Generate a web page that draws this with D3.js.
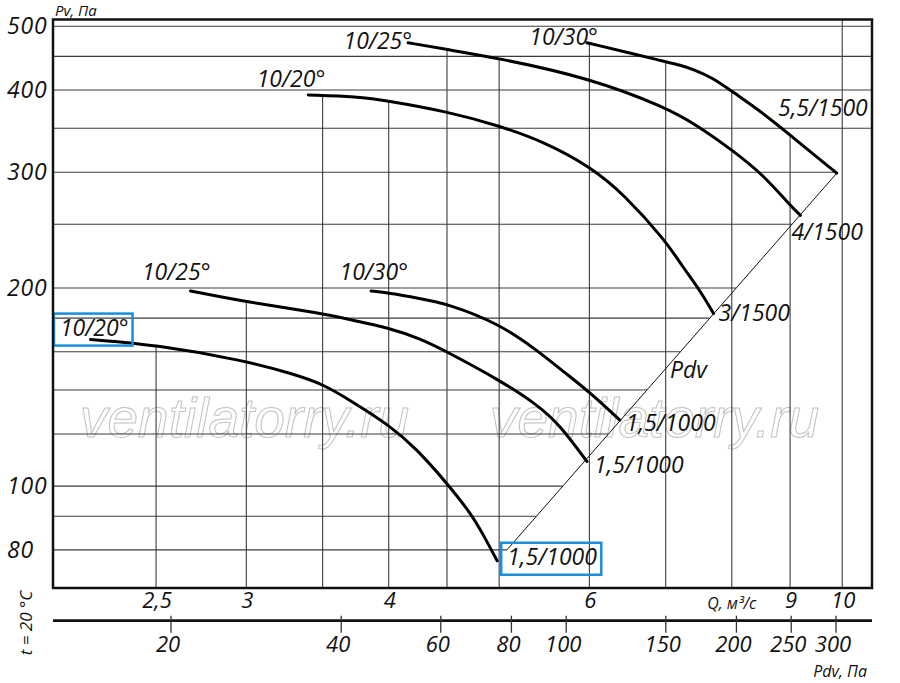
<!DOCTYPE html>
<html>
<head>
<meta charset="utf-8">
<script src="https://cdn.jsdelivr.net/npm/d3@7"></script>
<style>
  body { margin: 0; background: #fff; }
  text { font-family: "Open Sans", sans-serif; font-style: italic; fill: #111; }
</style>
</head>
<body>
<div id="chart"></div>
<script>
// axis values
const qTicks = [2.5, 3, 4, 6, 9, 10];
const qGrid = [2.5, 3, 3.5, 4, 4.5, 5, 6, 7, 8, 9, 10];
const pvTicks = [80, 100, 200, 300, 400, 500];
const pvGrid = [80, 90, 100, 120, 140, 160, 180, 200, 250, 300, 350, 400, 450, 500];
const pdvTicks = [20, 40, 60, 80, 100, 150, 200, 250, 300];

// fan curves [Q m3/s, Pv Pa]
const curve20Low = [[2.19,167],[2.5,164],[3.0,155],[3.3,148],[3.5,143],[3.7,135],[4.0,124],[4.23,114],[4.5,101],[4.72,91],[4.84,84.5],[4.98,77]];
const curve25Low = [[2.68,198],[3.0,190.5],[3.5,183],[3.7,179],[4.0,174],[4.26,167.6],[4.5,160],[5.0,145],[5.4,133],[5.65,124],[5.97,109]];
const curve30Low = [[3.86,198],[4.0,196.6],[4.26,192.8],[4.5,189.4],[5.0,176.6],[5.4,160.8],[5.73,148],[6.0,139],[6.38,126]];
const curve20High = [[3.40,393],[3.75,391],[4.0,385],[4.5,371],[5.0,353],[5.47,334],[6.01,306],[6.43,278],[7.0,236],[7.25,215],[7.5,198.5],[7.71,183]];
const curve25High = [[4.16,472],[4.5,461],[5.0,447],[6.01,417],[7.0,376.5],[7.45,354],[8.01,324],[8.53,297],[9.0,267],[9.19,258]];
const curve30High = [[5.97,472],[7.0,441.7],[7.21,436.6],[7.40,430],[7.71,417],[8.01,397.6],[8.53,368.6],[9.0,341.6],[9.89,299]];
// Pdv line through the curve ends
const pdvLine = [[5.08,80],[9.89,299]];

const curves = [
  { id: "a", pts: curve20Low,  start: "10/20°", end: "1,5/1000" },
  { id: "b", pts: curve25Low,  start: "10/25°", end: "1,5/1000" },
  { id: "c", pts: curve30Low,  start: "10/30°", end: "1,5/1000" },
  { id: "d", pts: curve20High, start: "10/20°", end: "3/1500" },
  { id: "e", pts: curve25High, start: "10/25°", end: "4/1500" },
  { id: "f", pts: curve30High, start: "10/30°", end: "5,5/1500" }
];

// label placement relative to curve start / end (px)
const labelPos = {
  a: { s: [38, -4], e: [10, 4], box: true },
  b: { s: [20, -11], e: [7, 12] },
  c: { s: [37, -11], e: [6, 11] },
  d: { s: [17, -8], e: [5, 8] },
  e: { s: [4, 6], e: [-9, 25] },
  f: { s: [11, 2], e: [31, -57], anchorEnd: true }
};

const W = 900, H = 683;
const svg = d3.select("#chart").append("svg")
    .attr("width", W)
    .attr("height", H);

const x = d3.scaleLog().domain([2.03, 10.62]).range([53, 872]);
const y = d3.scaleLog().domain([70, 512]).range([588, 19.5]);
const xPdv = d3.scaleLog().domain([20, 300]).range([171, 836]);

const comma = v => String(v).replace(".", ",");

// log-log interpolation along a polyline
function pvAt(pts, q) {
  for (let i = 0; i < pts.length - 1; i++) {
    const [q0, p0] = pts[i], [q1, p1] = pts[i + 1];
    if (q >= q0 && q <= q1) {
      const t = Math.log(q / q0) / Math.log(q1 / q0);
      return Math.exp(Math.log(p0) + t * Math.log(p1 / p0));
    }
  }
  return null;
}
function qOnDiag(pv) {
  const [q0, p0] = pdvLine[0], [q1, p1] = pdvLine[1];
  const t = Math.log(pv / p0) / Math.log(p1 / p0);
  return Math.exp(Math.log(q0) + t * Math.log(q1 / q0));
}

// watermark
["ventilatorry.ru", "ventilatorry.ru"].forEach((t, i) => {
  svg.append("text")
      .attr("x", i === 0 ? 80 : 490)
      .attr("y", 437)
      .style("font-family", "'Liberation Sans', Arial, sans-serif")
      .style("font-size", "55px")
      .style("fill", "none")
      .style("stroke", "#c2c2c2")
      .style("stroke-width", 1)
      .text(t);
});

// horizontal grid, stops at the Pdv line below 300 Pa
svg.append("g").selectAll("line")
    .data(pvGrid)
    .enter().append("line")
    .attr("x1", x.range()[0])
    .attr("x2", d => d <= 300 ? x(qOnDiag(d)) : x.range()[1])
    .attr("y1", d => y(d))
    .attr("y2", d => y(d))
    .attr("stroke", "#3c3c3c")
    .attr("stroke-width", 1.1);

// vertical grid, from the bottom up to the highest curve
svg.append("g").selectAll("line")
    .data(qGrid)
    .enter().append("line")
    .attr("x1", d => x(d))
    .attr("x2", d => x(d))
    .attr("y1", y.range()[0])
    .attr("y2", d => {
      const vals = curves.map(c => pvAt(c.pts, d)).filter(v => v !== null);
      return vals.length ? y(d3.max(vals)) : y.range()[1];
    })
    .attr("stroke", "#3c3c3c")
    .attr("stroke-width", 1.1);

// Pdv diagonal
const line = d3.line().x(d => x(d[0])).y(d => y(d[1]));
svg.append("path")
    .attr("d", line(pdvLine))
    .attr("fill", "none")
    .attr("stroke", "#111")
    .attr("stroke-width", 1);

const mid = [Math.sqrt(pdvLine[0][0] * pdvLine[1][0]), Math.sqrt(pdvLine[0][1] * pdvLine[1][1])];
svg.append("text")
    .attr("x", x(mid[0]) - 2)
    .attr("y", y(mid[1]) + 16)
    .style("font-size", "23px")
    .text("Pdv");

// curves
const curveLine = d3.line()
    .x(d => x(d[0]))
    .y(d => y(d[1]))
    .curve(d3.curveBasis);

svg.append("g").selectAll("path")
    .data(curves)
    .enter().append("path")
    .attr("d", d => curveLine(d.pts))
    .attr("fill", "none")
    .attr("stroke", "#000")
    .attr("stroke-width", 3)
    .attr("stroke-linecap", "round");

// curve labels
curves.forEach(c => {
  const lp = labelPos[c.id];
  const s = c.pts[0], e = c.pts[c.pts.length - 1];
  const ts = svg.append("text")
      .attr("x", x(s[0]) + lp.s[0])
      .attr("y", y(s[1]) + lp.s[1])
      .attr("text-anchor", "end")
      .style("font-size", "23px")
      .text(c.start);
  const te = svg.append("text")
      .attr("x", x(e[0]) + lp.e[0])
      .attr("y", y(e[1]) + lp.e[1])
      .attr("text-anchor", lp.anchorEnd ? "end" : "start")
      .style("font-size", "23px")
      .text(c.end);
  if (lp.box) {
    [ts, te].forEach(t => {
      const bb = t.node().getBBox();
      svg.append("rect")
          .attr("x", bb.x - 6)
          .attr("y", bb.y + 3)
          .attr("width", bb.width + 10)
          .attr("height", bb.height)
          .attr("fill", "none")
          .attr("stroke", "#1a8ddb")
          .attr("stroke-width", 2.5);
    });
  }
});

// frame
svg.append("rect")
    .attr("x", x.range()[0])
    .attr("y", y.range()[1])
    .attr("width", x.range()[1] - x.range()[0])
    .attr("height", y.range()[0] - y.range()[1])
    .attr("fill", "none")
    .attr("stroke", "#111")
    .attr("stroke-width", 2.5);

// Pv labels
svg.append("g").selectAll("text")
    .data(pvTicks)
    .enter().append("text")
    .attr("x", 7)
    .attr("y", d => y(d) + 8)
    .style("font-size", "23px")
    .style("letter-spacing", "0.8px")
    .text(d => d);

svg.append("text")
    .attr("x", 55)
    .attr("y", 16)
    .style("font-size", "15px")
    .text("Pv, Па");

// Q labels
svg.append("g").selectAll("text")
    .data(qTicks)
    .enter().append("text")
    .attr("x", d => x(d) + 1)
    .attr("y", 608)
    .attr("text-anchor", "middle")
    .style("font-size", "22px")
    .text(d => comma(d));

svg.append("text")
    .attr("x", x(8))
    .attr("y", 609)
    .attr("text-anchor", "middle")
    .style("font-size", "16px")
    .text("Q, м³/с");

// Pdv axis
const pdvY = 620.7;
svg.append("line")
    .attr("x1", x.range()[0])
    .attr("x2", x.range()[1])
    .attr("y1", pdvY)
    .attr("y2", pdvY)
    .attr("stroke", "#111")
    .attr("stroke-width", 2.7);

svg.append("g").selectAll("line")
    .data(pdvTicks)
    .enter().append("line")
    .attr("x1", d => xPdv(d))
    .attr("x2", d => xPdv(d))
    .attr("y1", pdvY - 5)
    .attr("y2", pdvY + 12)
    .attr("stroke", "#333")
    .attr("stroke-width", 1.3);

svg.append("g").selectAll("text")
    .data(pdvTicks)
    .enter().append("text")
    .attr("x", d => xPdv(d) - 3)
    .attr("y", 652)
    .attr("text-anchor", "middle")
    .style("font-size", "22px")
    .text(d => d);

svg.append("text")
    .attr("x", 867)
    .attr("y", 677)
    .attr("text-anchor", "end")
    .style("font-size", "16px")
    .text("Pdv, Па");

svg.append("text")
    .attr("transform", "translate(32,623) rotate(-90)")
    .attr("text-anchor", "middle")
    .style("font-size", "17px")
    .text("t = 20 °C");
</script>
</body>
</html>
